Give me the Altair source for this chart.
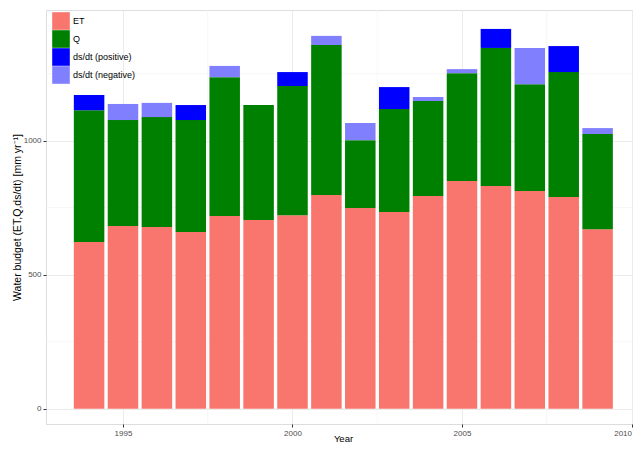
import altair as alt
import pandas as pd

years = list(range(1994, 2010))
et = [622, 682, 678, 659, 719, 704, 722, 797, 749, 734, 794, 850, 831, 812, 790, 670]
q = [492, 395, 410, 418, 518, 429, 482, 560, 253, 384, 354, 402, 515, 399, 466, 355]
ds_pos = [56, 0, 0, 56, 0, 0, 52, 0, 0, 82, 0, 0, 71, 0, 97, 0]
ds_neg = [0, 60, 53, 0, 42, 0, 0, 34, 64, 0, 15, 15, 0, 135, 0, 22]

components = ["ET", "Q", "ds/dt (positive)", "ds/dt (negative)"]
colors = ["#F8766D", "#008000", "#0000FF", "#8080FF"]

rows = []
for i, yr in enumerate(years):
    for k, (name, vals) in enumerate(zip(components, [et, q, ds_pos, ds_neg])):
        if vals[i] > 0:
            rows.append({"Year": yr, "component": name, "value": vals[i], "ord": k})
df = pd.DataFrame(rows)

x_major = [1995, 2000, 2005, 2010]
x_minor = [1997.5, 2002.5, 2007.5]
y_major = [0, 500, 1000]
y_minor = [250, 750, 1250]

xdom = [1992.729, 2010.044]
ydom = [-57.1, 1487.6]
FONT = "Liberation Sans"

xscale = alt.Scale(domain=xdom, nice=False, zero=False)
yscale = alt.Scale(domain=ydom, nice=False, zero=False)

minor_x = alt.Chart(pd.DataFrame({"v": x_minor})).mark_rule(
    color="#F4F4F4", strokeWidth=0.8
).encode(x=alt.X("v:Q", scale=xscale, axis=None))

minor_y = alt.Chart(pd.DataFrame({"v": y_minor})).mark_rule(
    color="#F4F4F4", strokeWidth=0.8
).encode(y=alt.Y("v:Q", scale=yscale, axis=None))

bars = alt.Chart(df).transform_stack(
    stack="value", groupby=["Year"], sort=[alt.SortField("ord", order="ascending")],
    as_=["y0", "y1"],
).transform_calculate(
    x0="datum.Year - 0.45", x1="datum.Year + 0.45"
).mark_bar(strokeWidth=0).encode(
    x=alt.X(
        "x0:Q",
        scale=xscale,
        axis=alt.Axis(
            values=x_major, format="d", title="Year", grid=True,
            gridColor="#EBEBEB", gridWidth=1, domain=False,
            tickColor="#333333", tickSize=3, labelPadding=2,
            labelFontSize=8, labelColor="#4D4D4D", labelFont=FONT,
            labelAlign=alt.expr("datum.value == 2010 ? 'right' : 'center'"),
            titleFont=FONT, titleFontSize=9.5, titleFontWeight="normal",
            titleColor="#000000", titleX=297, titleY=17,
            titleBaseline="alphabetic", titleAlign="center",
        ),
    ),
    x2="x1:Q",
    y=alt.Y(
        "y0:Q",
        scale=yscale,
        axis=alt.Axis(
            values=y_major, format="d", title="Water budget (ET,Q,ds/dt) [mm yr⁻¹]",
            grid=True, gridColor="#EBEBEB", gridWidth=1, domain=False,
            tickColor="#333333", tickSize=3, labelPadding=2,
            labelFontSize=8, labelColor="#4D4D4D", labelFont=FONT,
            titleFont=FONT, titleFontSize=10.5, titleFontWeight="normal",
            titleColor="#000000", titleX=-29, titleY=207, titleAngle=-90,
            titleBaseline="middle", titleAlign="center",
        ),
    ),
    y2="y1:Q",
    color=alt.Color(
        "component:N",
        scale=alt.Scale(domain=components, range=colors),
        legend=alt.Legend(
            title=None, orient="none", legendX=6, legendY=2, padding=0,
            symbolType="square", symbolSize=310, symbolStrokeWidth=0,
            symbolOpacity=1, rowPadding=0, labelOffset=3,
            labelFont=FONT, labelFontSize=9, labelColor="#000000",
        ),
    ),
)

chart = alt.layer(minor_x, minor_y, bars).resolve_axis(
    x="independent", y="independent"
).properties(
    width=587,
    height=414,
    autosize=alt.AutoSizeParams(type="none"),
    padding={"left": 38, "top": 2, "right": 0, "bottom": 18},
).configure_view(
    stroke="#9A9A9A", strokeWidth=1
).configure(background="white")

chart.save("out.html", embed_options={"renderer": "svg", "actions": False})
